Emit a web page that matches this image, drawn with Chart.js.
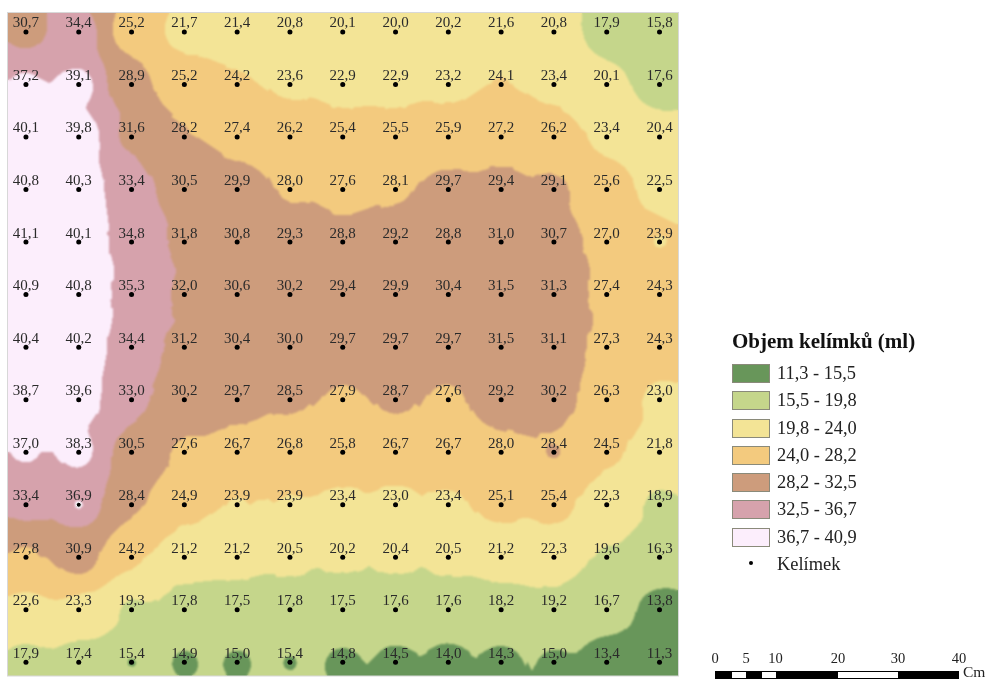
<!DOCTYPE html>
<html>
<head>
<meta charset="utf-8">
<title>Objem kelímků</title>
<script src="https://cdn.jsdelivr.net/npm/chart.js@4"></script>
<style>
    html, body { margin: 0; padding: 0; background: #fff; }
    body { width: 987px; height: 679px; overflow: hidden; position: relative; font-family: "Liberation Serif", serif; color: #222; }
    canvas { position: absolute; left: 0; top: 0; }
    #legend { position: absolute; left: 732px; top: 329px; }
    #legend h1 { margin: 0 0 11px 0; font-size: 21px; line-height: 24px; font-weight: bold; color: #111; white-space: nowrap; }
    .row { height: 27.3px; position: relative; font-size: 18.4px; line-height: 19px; white-space: nowrap; }
    .swatch { position: absolute; left: 0; top: 0; width: 36px; height: 17px; border: 1px solid #8a8a7a; }
    .row span { position: absolute; left: 45px; top: 0; }
    .dot { position: absolute; left: 17px; top: 6px; width: 4px; height: 4px; border-radius: 50%; background: #000; }
    #scalebar .seg { position: absolute; top: 671px; height: 6px; border: 1px solid #000; border-width: 1px 0; }
    #scalebar .tick { position: absolute; top: 650px; width: 30px; margin-left: -15px; text-align: center; font-size: 14.5px; line-height: 16px; }
    #scalebar .unit { position: absolute; left: 963px; top: 664px; font-size: 15.5px; line-height: 16px; }
</style>
</head>
<body>
<canvas id="map" width="987" height="679"></canvas>
<div id="legend"></div>
<div id="scalebar"></div>

<script>
// rows of cups, top to bottom
var row0  = [30.7, 34.4, 25.2, 21.7, 21.4, 20.8, 20.1, 20.0, 20.2, 21.6, 20.8, 17.9, 15.8];
var row1  = [37.2, 39.1, 28.9, 25.2, 24.2, 23.6, 22.9, 22.9, 23.2, 24.1, 23.4, 20.1, 17.6];
var row2  = [40.1, 39.8, 31.6, 28.2, 27.4, 26.2, 25.4, 25.5, 25.9, 27.2, 26.2, 23.4, 20.4];
var row3  = [40.8, 40.3, 33.4, 30.5, 29.9, 28.0, 27.6, 28.1, 29.7, 29.4, 29.1, 25.6, 22.5];
var row4  = [41.1, 40.1, 34.8, 31.8, 30.8, 29.3, 28.8, 29.2, 28.8, 31.0, 30.7, 27.0, 23.9];
var row5  = [40.9, 40.8, 35.3, 32.0, 30.6, 30.2, 29.4, 29.9, 30.4, 31.5, 31.3, 27.4, 24.3];
var row6  = [40.4, 40.2, 34.4, 31.2, 30.4, 30.0, 29.7, 29.7, 29.7, 31.5, 31.1, 27.3, 24.3];
var row7  = [38.7, 39.6, 33.0, 30.2, 29.7, 28.5, 27.9, 28.7, 27.6, 29.2, 30.2, 26.3, 23.0];
var row8  = [37.0, 38.3, 30.5, 27.6, 26.7, 26.8, 25.8, 26.7, 26.7, 28.0, 28.4, 24.5, 21.8];
var row9  = [33.4, 36.9, 28.4, 24.9, 23.9, 23.9, 23.4, 23.0, 23.4, 25.1, 25.4, 22.3, 18.9];
var row10 = [27.8, 30.9, 24.2, 21.2, 21.2, 20.5, 20.2, 20.4, 20.5, 21.2, 22.3, 19.6, 16.3];
var row11 = [22.6, 23.3, 19.3, 17.8, 17.5, 17.8, 17.5, 17.6, 17.6, 18.2, 19.2, 16.7, 13.8];
var row12 = [17.9, 17.4, 15.4, 14.9, 15.0, 15.4, 14.8, 14.5, 14.0, 14.3, 15.0, 13.4, 11.3];
var rows = [row0, row1, row2, row3, row4, row5, row6, row7, row8, row9, row10, row11, row12];

// class breaks and their colours
var breaks = [15.5, 19.8, 24.0, 28.2, 32.5, 36.7];
var classLabels = ['11,3 - 15,5', '15,5 - 19,8', '19,8 - 24,0', '24,0 - 28,2', '28,2 - 32,5', '32,5 - 36,7', '36,7 - 40,9'];
var classColors = ['#68965a', '#c5d68b', '#f3e496', '#f3ca7e', '#cd9c7c', '#d6a2ac', '#fceefc'];

var scaleTicks = [0, 5, 10, 20, 30, 40];

var points = [];
rows.forEach(function (r, y) {
    r.forEach(function (v, x) {
        points.push({ x: x, y: y, v: v });
    });
});

// inverse distance weighting, power 2, 12 nearest cups
function idw(x, y) {
    var near = [];
    var x0 = Math.max(0, Math.round(x) - 3), x1 = Math.min(12, Math.round(x) + 3);
    var y0 = Math.max(0, Math.round(y) - 3), y1 = Math.min(12, Math.round(y) + 3);
    for (var j = y0; j <= y1; j++) {
        for (var i = x0; i <= x1; i++) {
            var d = (i - x) * (i - x) + (j - y) * (j - y);
            if (d < 1e-9) return rows[j][i];
            near.push([d, rows[j][i]]);
        }
    }
    near.sort(function (a, b) { return a[0] - b[0]; });
    var sum = 0, w = 0;
    for (var k = 0; k < 12 && k < near.length; k++) {
        sum += near[k][1] / near[k][0];
        w += 1 / near[k][0];
    }
    return sum / w;
}

function classOf(v) {
    for (var i = 0; i < breaks.length; i++) {
        if (v < breaks[i]) return i;
    }
    return breaks.length;
}

/* ======= Filled classes under the points ======= */
var surfacePlugin = {
    id: 'surface',
    beforeDatasetsDraw: function (chart) {
        var c = chart.ctx, a = chart.chartArea;
        var sx = chart.scales.x, sy = chart.scales.y;
        var left = Math.round(a.left), right = Math.round(a.right);
        var top = Math.round(a.top), bottom = Math.round(a.bottom);

        var off = document.createElement('canvas');
        off.width = chart.width;
        off.height = chart.height;
        var o = off.getContext('2d');
        for (var py = top; py < bottom; py++) {
            var gy = sy.getValueForPixel(py + 0.5);
            var start = left, last = -1;
            for (var px = left; px <= right; px++) {
                var cls = px < right ? classOf(idw(sx.getValueForPixel(px + 0.5), gy)) : -2;
                if (cls !== last) {
                    if (last >= 0) {
                        o.fillStyle = classColors[last];
                        o.fillRect(start, py, px - start, 1);
                    }
                    start = px;
                    last = cls;
                }
            }
        }

        // the sharp copy keeps the edges full, the blurred one softens the class borders
        c.save();
        c.drawImage(off, 0, 0);
        c.beginPath();
        c.rect(left, top, right - left, bottom - top);
        c.clip();
        c.filter = 'blur(1px)';
        c.drawImage(off, 0, 0);
        c.restore();

        c.strokeStyle = '#d8d8d8';
        c.lineWidth = 1;
        c.strokeRect(a.left - 0.5, a.top - 0.5, a.right - a.left + 1, a.bottom - a.top + 1);
    }
};

/* ======= Values above the points ======= */
var valuesPlugin = {
    id: 'values',
    afterDatasetsDraw: function (chart) {
        var c = chart.ctx, meta = chart.getDatasetMeta(0);
        c.save();
        c.font = '15px "Liberation Serif"';
        c.fillStyle = '#2a2a2a';
        c.textAlign = 'center';
        c.textBaseline = 'alphabetic';
        meta.data.forEach(function (el, i) {
            c.fillText(points[i].v.toFixed(1).replace('.', ','), el.x, el.y - 4.5);
        });
        c.restore();
    }
};

new Chart(document.getElementById('map'), {
    type: 'scatter',
    data: {
        datasets: [{
            label: 'Kelímek',
            data: points,
            pointRadius: 2.5,
            pointHoverRadius: 2.5,
            pointBackgroundColor: '#000',
            pointBorderWidth: points.map(function (p) { return p.v === 36.9 ? 1 : 0; }),
            pointBorderColor: '#fff'
        }]
    },
    options: {
        responsive: false,
        animation: false,
        events: [],
        layout: { padding: { left: 8, top: 13, right: 309, bottom: 0 } },
        scales: {
            x: { type: 'linear', display: false, min: -0.34, max: 12.35 },
            y: { type: 'linear', display: false, reverse: true, min: -0.36, max: 12.25 }
        },
        plugins: { legend: { display: false }, tooltip: { enabled: false } }
    },
    plugins: [surfacePlugin, valuesPlugin]
});

/* ======= Legend ======= */
var legend = document.getElementById('legend');
legend.innerHTML = '<h1>Objem kelímků (ml)</h1>';
classLabels.forEach(function (label, i) {
    legend.innerHTML += '<div class="row"><div class="swatch" style="background:' + classColors[i] + '"></div><span>' + label + '</span></div>';
});
legend.innerHTML += '<div class="row"><div class="dot"></div><span>Kelímek</span></div>';

/* ======= Scale bar ======= */
var bar = document.getElementById('scalebar');
var barPixels = { 0: 715, 5: 746, 10: 775.5, 20: 838, 30: 898, 40: 959 };
var segs = [[715, 731.5, '#000'], [731.5, 746, '#fff'], [746, 761.5, '#000'], [761.5, 775.5, '#fff'], [775.5, 838, '#000'], [838, 898, '#fff'], [898, 959, '#000']];
var html = '';
segs.forEach(function (s) {
    html += '<div class="seg" style="left:' + s[0] + 'px;width:' + (s[1] - s[0]) + 'px;background:' + s[2] + '"></div>';
});
scaleTicks.forEach(function (t) {
    html += '<div class="tick" style="left:' + barPixels[t] + 'px">' + t + '</div>';
});
html += '<div class="unit">Cm</div>';
bar.innerHTML = html;
</script>
</body>
</html>
